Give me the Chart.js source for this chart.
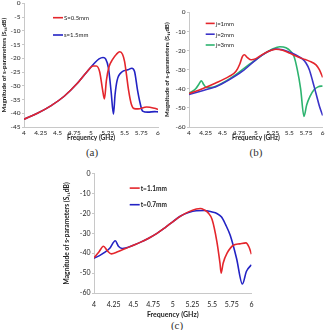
<!DOCTYPE html>
<html>
<head>
<meta charset="utf-8">
<script src="https://cdn.jsdelivr.net/npm/chart.js@4.4.1/dist/chart.umd.min.js"></script>
<style>
  body { margin: 0; background: #fff; width: 327px; height: 330px; position: relative; overflow: hidden; }
  .box { position: absolute; }
  .cap { position: absolute; font-family: 'Liberation Serif', serif; font-size: 11px; color: #333; transform: translate(-50%, -50%); }
</style>
</head>
<body>
<div class="box" style="left:0px;top:-2.3px;width:163px;height:144px"><canvas id="chartA"></canvas></div>
<div class="box" style="left:163px;top:6.7px;width:164px;height:135px"><canvas id="chartB"></canvas></div>
<div class="box" style="left:63px;top:168.3px;width:198px;height:151px"><canvas id="chartC"></canvas></div>
<div class="cap" style="left:92px;top:152px">(a)</div>
<div class="cap" style="left:256px;top:152px">(b)</div>
<div class="cap" style="left:177px;top:325px">(c)</div>

<script>
// tick labels
const freqTicks = [4, 4.25, 4.5, 4.75, 5, 5.25, 5.5, 5.75, 6];
const yTicksA = [0, -5, -10, -15, -20, -25, -30, -35, -40, -45];
const yTicksBC = [0, -10, -20, -30, -40, -50, -60];

// (a) slot width S
const freqA_s05 = [4.0, 4.2, 4.4, 4.6, 4.8, 4.95, 5.03, 5.08, 5.13, 5.17, 5.2, 5.23, 5.27, 5.32, 5.38, 5.43, 5.47, 5.5, 5.53, 5.56, 5.6, 5.645, 5.7, 5.83, 5.95, 6.0];
const s11A_s05 = [-42.2, -40, -37.3, -33.8, -29, -24.6, -22.8, -22.8, -25, -31, -34.8, -28, -23, -20.5, -18.5, -17.6, -18.5, -21, -26, -31.5, -36.5, -38.3, -38.4, -37.7, -38.2, -38.6];
const freqA_s15 = [4.0, 4.2, 4.4, 4.6, 4.8, 4.95, 5.05, 5.12, 5.18, 5.22, 5.26, 5.3, 5.335, 5.36, 5.39, 5.46, 5.55, 5.61, 5.65, 5.695, 5.73, 5.77, 5.85, 5.95, 6.0];
const s11A_s15 = [-42.2, -40, -37.3, -33.8, -29, -24.6, -21.8, -20.2, -19.7, -20.3, -23.5, -32, -40.3, -33, -28, -25, -24.2, -23.6, -24.8, -31.7, -36, -39.2, -39.6, -39.4, -39.5];

// (b) j
const freqB_j1 = [4.0, 4.2, 4.4, 4.6, 4.7, 4.76, 4.8, 4.83, 4.87, 4.93, 5.0, 5.1, 5.2, 5.3, 5.4, 5.5, 5.6, 5.7, 5.8, 5.9, 5.95, 6.0];
const s11B_j1 = [-42.5, -40, -37, -33.5, -31, -27, -23, -22.2, -23.5, -24.8, -24.2, -22, -20.2, -19.3, -19.8, -21.2, -22.8, -24.2, -25.5, -27.5, -30, -34];
const freqB_j2 = [4.0, 4.2, 4.4, 4.6, 4.8, 5.0, 5.1, 5.2, 5.3, 5.4, 5.5, 5.6, 5.7, 5.75, 5.8, 5.85, 5.9, 5.95, 6.0];
const s11B_j2 = [-43, -41, -38.9, -35.3, -30.8, -24.8, -22.2, -20.2, -19.2, -19.6, -20.8, -22.3, -24.5, -26.5, -30, -36, -42.5, -49, -54];
const freqB_j3 = [4.0, 4.1, 4.15, 4.185, 4.22, 4.26, 4.35, 4.5, 4.7, 4.9, 5.0, 5.1, 5.2, 5.3, 5.36, 5.45, 5.52, 5.57, 5.62, 5.67, 5.72, 5.76, 5.81, 5.87, 5.93, 6.0];
const s11B_j3 = [-42.3, -40, -37.5, -35.8, -37.8, -39.3, -39.2, -37, -32.6, -27.2, -24.8, -22.2, -20, -18.5, -18, -18.5, -20.3, -23, -30, -40, -54.5, -48.5, -44, -40.5, -39, -38.5];

// (c) t
const freqC_t11 = [4.0, 4.06, 4.12, 4.17, 4.22, 4.3, 4.4, 4.5, 4.6, 4.7, 4.8, 4.9, 5.0, 5.1, 5.2, 5.3, 5.35, 5.4, 5.45, 5.5, 5.56, 5.6, 5.615, 5.64, 5.69, 5.77, 5.85, 5.93, 5.97, 6.0];
const s11C_t11 = [-42.3, -39.5, -36.5, -38.8, -40.3, -39.3, -37.6, -36, -34.3, -32.3, -30, -27.2, -24.2, -21.3, -19.2, -17.8, -17.5, -18.2, -19.7, -23, -34, -45, -50, -45, -40, -36, -35.3, -34.8, -37, -40.5];
const freqC_t07 = [4.0, 4.07, 4.13, 4.2, 4.27, 4.31, 4.36, 4.4, 4.5, 4.6, 4.7, 4.8, 4.9, 5.0, 5.1, 5.2, 5.3, 5.4, 5.5, 5.56, 5.62, 5.67, 5.73, 5.81, 5.885, 5.935, 6.0];
const s11C_t07 = [-42.5, -41.2, -39.7, -37.5, -33.7, -36.5, -37.6, -37.4, -36, -34.3, -32.3, -30, -27.2, -24.2, -21.3, -19.5, -18.6, -18.5, -19.3, -20, -21.8, -25.5, -31, -42.5, -55.5, -49.2, -45.8];

const RED = '#e4262c';
const BLUE = '#2323c4';
const GREEN = '#2db36f';
const FONT = 'Lato, "Open Sans", sans-serif';

function pts(xs, ys) {
    return xs.map((x, i) => ({ x: x, y: ys[i] }));
}

// legend drawn inside the plot, like the original figure
const legendInside = {
    id: 'legendInside',
    afterDatasetsDraw(chart, args, opts) {
        const ctx = chart.ctx, a = chart.chartArea;
        ctx.save();
        ctx.font = opts.font;
        ctx.textBaseline = 'middle';
        chart.data.datasets.forEach((ds, i) => {
            const x = a.left + opts.x;
            const y = a.top + opts.y + i * opts.gap;
            ctx.strokeStyle = ds.borderColor;
            ctx.lineWidth = 1.6;
            ctx.beginPath();
            ctx.moveTo(x, y);
            ctx.lineTo(x + opts.len, y);
            ctx.stroke();
            ctx.fillStyle = '#222';
            ctx.fillText(ds.label, x + opts.len + 1, y + 0.5);
        });
        ctx.restore();
    }
};

function makeChart(id, c) {
    new Chart(document.getElementById(id), {
        type: 'line',
        data: {
            datasets: c.series.map(s => ({
                label: s.label,
                data: pts(s.x, s.y),
                borderColor: s.color,
                borderWidth: 1.6,
                pointRadius: 0,
                fill: false,
                cubicInterpolationMode: 'monotone'
            }))
        },
        options: {
            responsive: true,
            maintainAspectRatio: false,
            animation: false,
            layout: { padding: { top: 5, right: c.padRight, bottom: 0, left: 0 } },
            plugins: {
                legend: { display: false },
                tooltip: { enabled: false },
                legendInside: c.legend
            },
            scales: {
                x: {
                    type: 'linear',
                    min: 4,
                    max: 6,
                    afterBuildTicks: s => { s.ticks = freqTicks.map(v => ({ value: v })); },
                    afterFit: s => { s.height = c.xH; },
                    grid: { drawOnChartArea: false, drawTicks: false },
                    border: { color: '#c8c8c8', width: 1 },
                    ticks: {
                        padding: c.xPad,
                        maxRotation: 0,
                        autoSkip: false,
                        color: '#222',
                        font: { family: FONT, size: c.fs },
                        callback: v => String(v)
                    },
                    title: {
                        display: true,
                        text: 'Frequency (GHz)',
                        color: '#222',
                        padding: 0,
                        font: { family: FONT, size: c.fs, weight: 'bold' }
                    }
                },
                y: {
                    min: c.yTicks[c.yTicks.length - 1],
                    max: 0,
                    afterBuildTicks: s => { s.ticks = c.yTicks.map(v => ({ value: v })); },
                    afterFit: s => { s.width = c.yW; },
                    grid: { drawOnChartArea: false, drawTicks: true, tickLength: 2, color: '#c8c8c8' },
                    border: { color: '#c8c8c8', width: 1 },
                    ticks: {
                        padding: 1.5,
                        color: '#222',
                        font: { family: FONT, size: c.fs },
                        callback: v => String(v)
                    },
                    title: {
                        display: true,
                        text: 'Magnitude of s-parameters (S₁₁dB)',
                        color: '#222',
                        padding: 0,
                        font: { family: FONT, size: c.fs - 0.3, weight: 'bold' }
                    }
                }
            }
        },
        plugins: [legendInside]
    });
}

makeChart('chartA', {
    series: [
        { label: 'S=0.5mm', x: freqA_s05, y: s11A_s05, color: RED },
        { label: 's=1.5mm', x: freqA_s15, y: s11A_s15, color: BLUE }
    ],
    yTicks: yTicksA, yW: 24, xH: 15, xPad: 2.1, padRight: 5, fs: 6.5,
    legend: { x: 29, y: 14.3, gap: 17.3, len: 10, font: '6px ' + FONT }
});

makeChart('chartB', {
    series: [
        { label: 'j=1mm', x: freqB_j1, y: s11B_j1, color: RED },
        { label: 'j=2mm', x: freqB_j2, y: s11B_j2, color: '#3b33c8' },
        { label: 'j=3mm', x: freqB_j3, y: s11B_j3, color: GREEN }
    ],
    yTicks: yTicksBC, yW: 26, xH: 15, xPad: 2.1, padRight: 4.3, fs: 6.5,
    legend: { x: 16.7, y: 11, gap: 10.8, len: 9, font: '6px ' + FONT }
});

makeChart('chartC', {
    series: [
        { label: 't=1.1mm', x: freqC_t11, y: s11C_t11, color: RED },
        { label: 't=0.7mm', x: freqC_t07, y: s11C_t07, color: BLUE }
    ],
    yTicks: yTicksBC, yW: 31, xH: 26, xPad: 7.5, padRight: 5.7, fs: 7,
    legend: { x: 35.7, y: 14.4, gap: 16.6, len: 10, font: 'bold 6.5px ' + FONT }
});
</script>
</body>
</html>
